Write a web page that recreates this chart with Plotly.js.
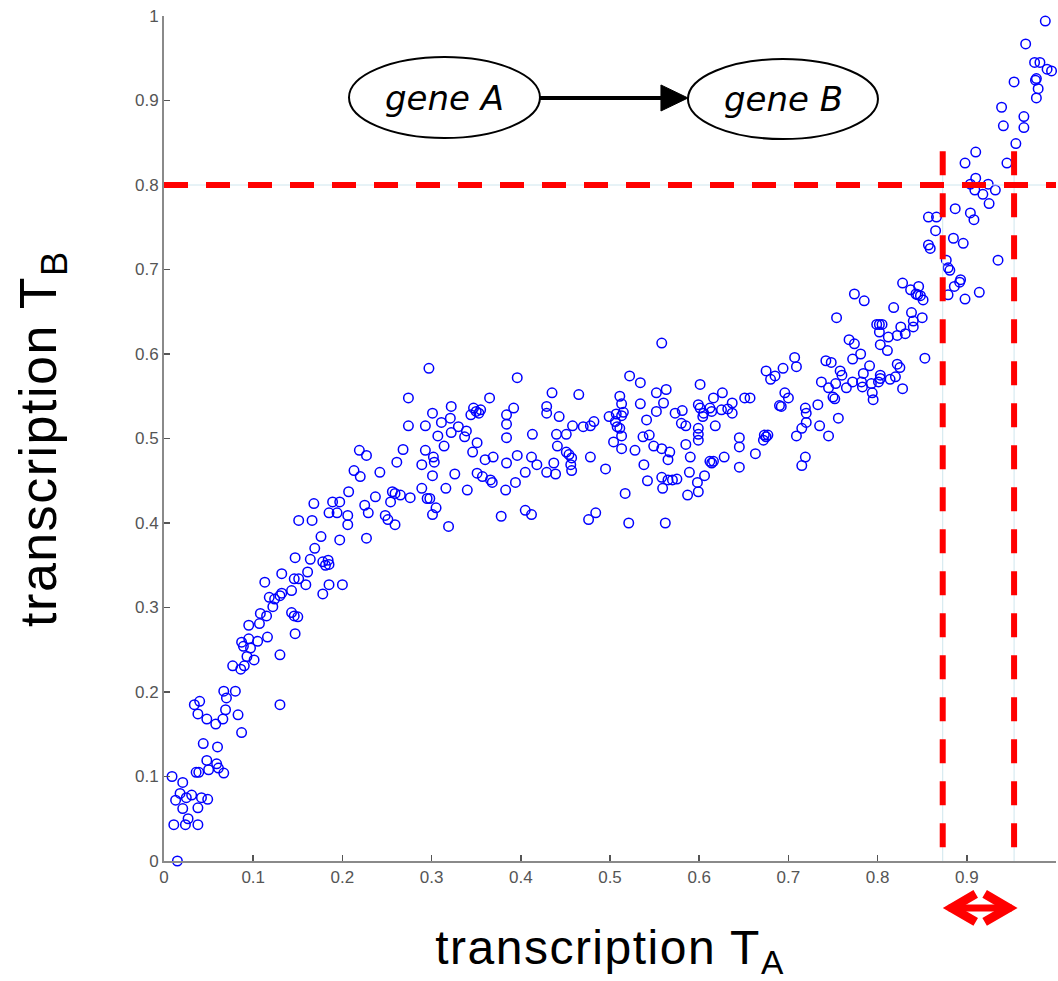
<!DOCTYPE html>
<html>
<head>
<meta charset="utf-8">
<script src="https://cdn.plot.ly/plotly-3.0.1.min.js"></script>
<style>
html, body { margin: 0; padding: 0; background: #fff; }
#chart { width: 1058px; height: 981px; }
.xtitle, .ytitle { letter-spacing: 1.5px; }
</style>
</head>
<body>
<div id="chart"></div>
<script>
// ---- Data: transcription of gene A (x) vs gene B (y) ----
const lowX = [0.015,0.009,0.011,0.021,0.013,0.018,0.021,0.024,0.027,0.025,
  0.031,0.038,0.038,0.042,0.049,0.036,0.039,0.044,0.048,0.050,
  0.059,0.061,0.067,0.060,0.034,0.040,0.038,0.048,0.058,0.066,
  0.069,0.067,0.070,0.080,0.083,0.087,0.077,0.086,0.090,0.087,
  0.089,0.095,0.093,0.097,0.101,0.105,0.095,0.107,0.108,0.116,
  0.115,0.113,0.118,0.122,0.124,0.132,0.130,0.132,0.130,0.130,
  0.143,0.143,0.146,0.150,0.147,0.146,0.151,0.159,0.161,0.178,
  0.185,0.200];
const lowY = [0.000,0.100,0.043,0.093,0.072,0.080,0.062,0.043,0.050,0.075,
  0.078,0.043,0.063,0.075,0.073,0.105,0.105,0.139,0.119,0.108,
  0.115,0.110,0.104,0.135,0.185,0.189,0.174,0.168,0.162,0.168,
  0.179,0.201,0.193,0.201,0.173,0.152,0.231,0.227,0.231,0.259,
  0.254,0.263,0.242,0.252,0.238,0.260,0.279,0.281,0.293,0.265,
  0.290,0.330,0.312,0.301,0.310,0.340,0.314,0.317,0.244,0.185,
  0.320,0.294,0.290,0.289,0.269,0.334,0.334,0.327,0.342,0.316,
  0.327,0.327];

const midX = [0.297,0.396,0.274,0.365,0.322,0.301,0.347,0.350,0.355,0.353,
  0.344,0.392,0.384,0.384,0.321,0.311,0.274,0.293,0.330,0.339,
  0.322,0.307,0.337,0.384,0.413,0.351,0.314,0.219,0.227,0.268,
  0.293,0.346,0.302,0.261,0.303,0.289,0.360,0.369,0.384,0.396,
  0.412,0.418,0.213,0.220,0.242,0.326,0.301,0.351,0.357,0.405,
  0.207,0.237,0.256,0.259,0.265,0.276,0.289,0.295,0.298,0.316,
  0.340,0.366,0.368,0.383,0.394,0.168,0.189,0.197,0.185,0.194,
  0.206,0.206,0.225,0.229,0.254,0.248,0.251,0.259,0.305,0.301,
  0.319,0.378,0.405,0.412,0.151,0.166,0.176,0.197,0.227,0.169,
  0.147,0.164,0.178,0.184,0.185,0.181];
const midY = [0.583,0.572,0.548,0.548,0.538,0.530,0.536,0.532,0.534,0.530,
  0.528,0.536,0.528,0.517,0.524,0.519,0.515,0.515,0.514,0.509,
  0.507,0.503,0.502,0.501,0.505,0.495,0.491,0.486,0.480,0.487,
  0.486,0.484,0.478,0.472,0.472,0.469,0.475,0.478,0.471,0.480,
  0.478,0.469,0.462,0.455,0.460,0.458,0.456,0.459,0.455,0.460,
  0.437,0.431,0.437,0.435,0.433,0.430,0.441,0.429,0.429,0.441,
  0.439,0.451,0.448,0.439,0.448,0.423,0.425,0.425,0.412,0.412,
  0.409,0.398,0.421,0.412,0.425,0.409,0.404,0.398,0.418,0.410,
  0.396,0.408,0.415,0.410,0.403,0.403,0.384,0.380,0.382,0.370,
  0.359,0.357,0.354,0.356,0.351,0.350];

const plateauX = [0.429,0.429,0.435,0.443,0.440,0.451,0.441,0.437,0.429,0.439,
  0.458,0.470,0.465,0.478,0.482,0.451,0.454,0.457,0.456,0.457,
  0.478,0.495,0.476,0.484,0.499,0.511,0.513,0.507,0.513,0.515,
  0.506,0.511,0.508,0.513,0.504,0.513,0.522,0.534,0.517,0.521,
  0.534,0.528,0.537,0.541,0.544,0.538,0.542,0.549,0.552,0.563,
  0.558,0.560,0.552,0.558,0.567,0.565,0.558,0.559,0.565,0.570,
  0.575,0.562,0.573,0.581,0.580,0.585,0.585,0.590,0.589,0.598,
  0.599,0.587,0.606,0.601,0.599,0.601,0.605,0.604,0.599,0.599,
  0.599,0.614,0.612,0.616,0.626,0.618,0.612,0.616,0.614,0.628,
  0.625,0.632,0.637,0.637,0.645,0.645,0.645,0.663,0.651,0.657];
const plateauY = [0.538,0.530,0.554,0.526,0.505,0.505,0.491,0.471,0.460,0.458,
  0.515,0.514,0.552,0.515,0.520,0.484,0.481,0.477,0.469,0.462,
  0.478,0.464,0.404,0.412,0.526,0.550,0.541,0.529,0.527,0.531,
  0.520,0.512,0.514,0.503,0.496,0.488,0.574,0.566,0.435,0.400,
  0.541,0.486,0.502,0.522,0.504,0.469,0.450,0.491,0.554,0.558,
  0.613,0.542,0.532,0.488,0.484,0.475,0.454,0.441,0.451,0.451,
  0.452,0.400,0.530,0.533,0.518,0.515,0.493,0.478,0.460,0.448,
  0.437,0.433,0.456,0.564,0.540,0.536,0.530,0.526,0.512,0.505,
  0.498,0.532,0.536,0.548,0.554,0.515,0.473,0.473,0.471,0.478,
  0.534,0.535,0.530,0.542,0.501,0.490,0.466,0.482,0.548,0.548];

const riseX = [0.673,0.677,0.675,0.672,0.675,0.680,0.685,0.694,0.707,0.709,
  0.696,0.700,0.690,0.692,0.719,0.720,0.720,0.715,0.709,0.719,
  0.715,0.733,0.735,0.745,0.756,0.737,0.742,0.748,0.754,0.745,
  0.750,0.752,0.753,0.758,0.760,0.765,0.772,0.772,0.781,0.768,
  0.774,0.774,0.785,0.782,0.783,0.784,0.791,0.793,0.794,0.795,
  0.799,0.802,0.805,0.802,0.803,0.811,0.812,0.803,0.803,0.801,
  0.814,0.818,0.822,0.826,0.831,0.822,0.825,0.820,0.828,0.838,
  0.840,0.840,0.850,0.853,0.828,0.837,0.846,0.843,0.848,0.851,
  0.845,0.879,0.886,0.892,0.898,0.914];
const riseY = [0.504,0.504,0.502,0.498,0.580,0.570,0.574,0.583,0.596,0.585,
  0.554,0.548,0.539,0.538,0.536,0.530,0.519,0.512,0.503,0.478,
  0.468,0.540,0.515,0.503,0.524,0.567,0.592,0.590,0.643,0.560,
  0.549,0.547,0.565,0.580,0.575,0.560,0.567,0.594,0.600,0.617,
  0.612,0.671,0.663,0.567,0.561,0.577,0.586,0.565,0.554,0.546,
  0.635,0.635,0.635,0.626,0.611,0.604,0.620,0.575,0.571,0.567,
  0.570,0.655,0.622,0.632,0.624,0.588,0.584,0.573,0.559,0.649,
  0.639,0.632,0.643,0.595,0.684,0.676,0.680,0.671,0.669,0.664,
  0.670,0.670,0.680,0.685,0.665,0.673];

const topX = [0.988,0.966,0.976,0.982,0.990,0.995,0.953,0.977,0.978,0.980,
  0.978,0.939,0.941,0.964,0.964,0.955,0.945,0.910,0.898,0.910,
  0.904,0.909,0.918,0.924,0.932,0.925,0.887,0.904,0.908,0.857,
  0.866,0.865,0.885,0.896,0.857,0.859,0.935,0.877,0.879,0.881,
  0.893];
const topY = [0.994,0.967,0.945,0.945,0.937,0.935,0.922,0.924,0.926,0.914,
  0.903,0.892,0.870,0.881,0.868,0.849,0.826,0.839,0.826,0.808,
  0.801,0.794,0.789,0.801,0.794,0.778,0.772,0.767,0.759,0.762,
  0.762,0.746,0.737,0.731,0.729,0.725,0.711,0.711,0.702,0.699,
  0.688];

// Annotation values
const thresholdB = 0.8;          // horizontal dashed line (T_B)
const rangeA = [0.873, 0.953];   // vertical dashed lines (T_A window)
const rangeTop = 0.84;
const arrowEndA = 0.957;         // right tip of the red double arrow
const xTicks = [0,0.1,0.2,0.3,0.4,0.5,0.6,0.7,0.8,0.9,1];
const xTickText = ['0','0.1','0.2','0.3','0.4','0.5','0.6','0.7','0.8','0.9','1'];
const geneLabels = ['gene A', 'gene B'];

const xs = [].concat(lowX, midX, plateauX, riseX, topX);
const ys = [].concat(lowY, midY, plateauY, riseY, topY);

const trace = {
  x: xs, y: ys, type: 'scatter', mode: 'markers',
  cliponaxis: false,
  marker: { symbol: 'circle-open', size: 9.5, color: '#0000ff', line: { width: 1.5, color: '#0000ff' } },
  hoverinfo: 'skip', showlegend: false
};

const redDash = { color: '#ff0000', width: 6, dash: '24px,18px' };
const pale = { color: '#cfe6ee', width: 1 };
const arrowY = -0.0556;   // paper y of the red double arrow

const shapes = [
  // pale guide lines
  { type: 'line', xref: 'x', yref: 'y', x0: 0, x1: 1, y0: thresholdB, y1: thresholdB, line: pale },
  { type: 'line', xref: 'x', yref: 'y', x0: rangeA[0], x1: rangeA[0], y0: rangeTop, y1: 0, line: pale },
  { type: 'line', xref: 'x', yref: 'y', x0: rangeA[1], x1: rangeA[1], y0: rangeTop, y1: 0, line: pale },
  // red dashed lines
  { type: 'line', xref: 'x', yref: 'y', x0: 0, x1: 1, y0: thresholdB, y1: thresholdB, line: redDash },
  { type: 'line', xref: 'x', yref: 'y', x0: rangeA[0], x1: rangeA[0], y0: rangeTop, y1: 0, line: redDash },
  { type: 'line', xref: 'x', yref: 'y', x0: rangeA[1], x1: rangeA[1], y0: rangeTop, y1: 0, line: redDash },
  // gene ellipses
  { type: 'circle', xref: 'x', yref: 'y', x0: 0.2074, x1: 0.4215, y0: 0.8556, y1: 0.9515,
    line: { color: '#000', width: 2 }, fillcolor: '#fff' },
  { type: 'circle', xref: 'x', yref: 'y', x0: 0.5874, x1: 0.8004, y0: 0.8544, y1: 0.9491,
    line: { color: '#000', width: 2 }, fillcolor: '#fff' },
  // regulation arrow gene A -> gene B : shaft and head
  { type: 'line', xref: 'x', yref: 'y', x0: 0.4215, x1: 0.562, y0: 0.903, y1: 0.903,
    line: { color: '#000', width: 4 } },
  { type: 'path', xref: 'x', yref: 'y', xsizemode: 'pixel', ysizemode: 'pixel',
    xanchor: 0.5874, yanchor: 0.903, path: 'M0,0 L-27,-13 L-27,13 Z',
    fillcolor: '#000', line: { color: '#000', width: 1 } },
  // red double arrow under the x axis: shaft and two chevrons
  { type: 'path', xref: 'x', yref: 'paper', xsizemode: 'pixel', ysizemode: 'pixel',
    xanchor: rangeA[0], yanchor: arrowY, path: 'M6,0 L69,0',
    line: { color: '#ff0000', width: 7 } },
  { type: 'path', xref: 'x', yref: 'paper', xsizemode: 'pixel', ysizemode: 'pixel',
    xanchor: rangeA[0], yanchor: arrowY, path: 'M33,-14 L9,0 L33,14',
    line: { color: '#ff0000', width: 9 } },
  { type: 'path', xref: 'x', yref: 'paper', xsizemode: 'pixel', ysizemode: 'pixel',
    xanchor: arrowEndA, yanchor: arrowY, path: 'M-33,-14 L-9,0 L-33,14',
    line: { color: '#ff0000', width: 9 } }
];

const geneFont = { family: 'DejaVu Sans', size: 34, color: '#000', style: 'italic' };
const annotations = [
  { x: 0.3145, y: 0.903, xref: 'x', yref: 'y', text: geneLabels[0], showarrow: false, font: geneFont },
  { x: 0.694, y: 0.902, xref: 'x', yref: 'y', text: geneLabels[1], showarrow: false, font: geneFont }
];

const axisCommon = {
  range: [0, 1], autorange: false, showgrid: false, zeroline: false,
  showline: true, linecolor: '#8a8a8a', linewidth: 2,
  ticks: 'inside', ticklen: 6, tickwidth: 1.5, tickcolor: '#555',
  tickfont: { family: 'Liberation Sans', size: 17, color: '#555' },
  mirror: false, fixedrange: true
};

const layout = {
  width: 1058, height: 981,
  margin: { l: 164, r: 2, t: 16, b: 120, pad: 0 },
  paper_bgcolor: '#fff', plot_bgcolor: '#fff',
  xaxis: Object.assign({}, axisCommon, {
    tickvals: xTicks, ticktext: xTickText,
    title: { text: 'transcription T<sub>A</sub>', standoff: 44,
      font: { family: 'Liberation Sans', size: 48, color: '#000' } },
    automargin: false
  }),
  yaxis: Object.assign({}, axisCommon, {
    tickvals: xTicks, ticktext: xTickText,
    title: { text: 'transcription T<sub>B</sub>', standoff: 62,
      font: { family: 'Liberation Sans', size: 52, color: '#000' } },
    automargin: false
  }),
  shapes: shapes,
  annotations: annotations,
  showlegend: false
};

Plotly.newPlot('chart', [trace], layout, { displayModeBar: false, staticPlot: true });
</script>
</body>
</html>
